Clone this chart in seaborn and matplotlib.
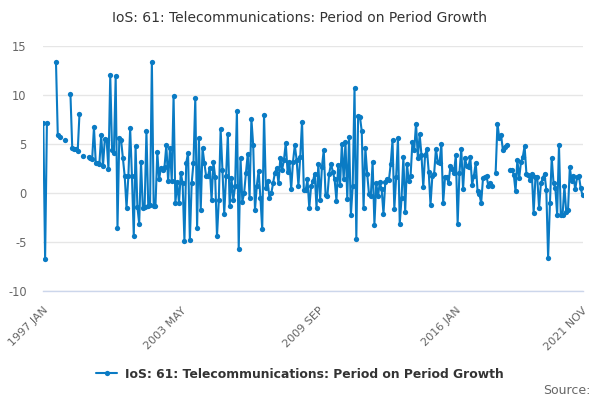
import numpy as np
import pandas as pd
import matplotlib
matplotlib.use("Agg")
import matplotlib.pyplot as plt
from matplotlib.lines import Line2D
import seaborn as sns

nan = np.nan
TITLE = "IoS: 61: Telecommunications: Period on Period Growth"
SERIES = "IoS: 61: Telecommunications: Period on Period Growth"
START = "1997-01"

# monthly period-on-period growth (%), NaN = no observation
g1997 = [7.2, -6.7, 7.2, nan, nan, nan, nan, 13.4, 5.95, 5.7, nan, nan]
g1998 = [5.4, nan, nan, 10.1, 4.6, 4.55, 4.5, 4.25, 8.1, nan, 3.75, nan]
g1999 = [nan, 3.7, 3.6, 3.5, 6.7, 3.1, 3.05, 3.0, 5.95, 2.8, 5.5, 5.4]
g2000 = [2.45, 12.0, 4.4, 4.1, 11.9, -3.5, 5.6, 5.4, 3.6, 1.7, -1.5, 1.7]
g2001 = [6.6, 1.7, -4.4, 4.8, -1.4, -3.1, 3.2, -1.5, -1.4, 6.3, -1.3, -1.2]
g2002 = [13.4, -1.3, -1.3, 4.2, 1.4, 2.6, 2.4, 2.7, 4.9, 1.2, 4.6, 1.2]
g2003 = [9.9, -1.0, 1.1, -1.0, 2.1, 1.0, -4.9, 3.1, 4.1, -4.8, 1.0, 3.1]
g2004 = [9.7, -3.5, 5.6, -1.7, 4.6, 3.1, 1.7, 1.7, 2.6, -0.7, 3.2, 1.6]
g2005 = [-4.4, -0.7, 6.5, 2.4, -2.1, 1.7, 6.0, -1.3, 1.5, -0.7, 0.7, 8.4]
g2006 = [-5.7, 3.6, -0.85, 0.0, 2.1, 4.0, -0.5, 7.6, 4.9, -1.7, 0.75, 2.3]
g2007 = [-0.5, -3.7, 8.0, 0.5, 1.2, -0.5, 0.0, 1.0, 2.1, 2.55, 1.0, 3.6]
g2008 = [2.4, 3.4, 5.1, 2.2, 3.2, 0.4, 3.2, 4.9, 3.4, 0.75, 3.7, 7.3]
g2009 = [0.3, 0.3, 1.4, -1.5, 0.7, 1.2, 2.0, -1.5, 3.0, -0.7, 2.7, 4.4]
g2010 = [-0.2, -0.3, 2.0, 3.0, 2.2, 1.4, -0.75, 2.9, 0.8, 5.0, 1.4, 5.2]
g2011 = [-0.6, 5.7, -2.2, 0.7, 10.7, -4.7, 7.9, 7.8, 6.3, -1.5, 4.6, 2.0]
g2012 = [-0.1, -0.3, 3.2, -3.2, 1.0, -0.3, 1.1, 0.4, -2.1, 1.1, 1.4, 1.3]
g2013 = [3.0, 5.4, -1.6, 1.6, 5.6, -3.1, -0.5, 3.7, -1.9, 3.0, 1.2, 1.8]
g2014 = [5.2, 4.4, 7.1, 3.6, 6.0, 3.9, 0.6, 3.9, 4.5, 2.2, -1.2, 1.7]
g2015 = [2.0, 4.5, 3.2, 3.1, 5.0, -1.0, 1.6, 1.6, 1.0, 2.8, 2.5, 2.1]
g2016 = [3.9, -3.1, 2.1, 4.5, 0.4, 3.6, 2.8, 2.7, 3.7, 0.85, 1.8, 3.1]
g2017 = [0.2, -0.1, -1.0, 1.5, 1.6, 1.7, 0.7, 1.0, 0.75, nan, 2.1, 7.1]
g2018 = [5.6, 5.9, 4.4, 4.7, 4.9, nan, 2.4, 2.4, 1.9, 0.2, 3.4, 1.5]
g2019 = [3.2, 3.7, 4.8, 2.0, 1.9, 1.3, 2.0, -2.0, 1.6, 1.6, -1.5, 1.0]
g2020 = [1.5, 2.0, 0.3, -6.6, -1.0, 3.6, 1.0, 0.5, -2.2, 4.9, -2.2, -2.2]
g2021 = [0.7, -1.9, -1.7, 2.65, 1.2, 1.7, 0.4, 1.6, 1.8, 0.5, -0.2]

y_ticks = [-10, -5, 0, 5, 10, 15]
tick_step_months = 19
label_every = 4

values = (g1997 + g1998 + g1999 + g2000 + g2001 + g2002 + g2003 + g2004 +
          g2005 + g2006 + g2007 + g2008 + g2009 + g2010 + g2011 + g2012 +
          g2013 + g2014 + g2015 + g2016 + g2017 + g2018 + g2019 + g2020 + g2021)
periods = pd.period_range(START, periods=len(values), freq="M")

df = pd.DataFrame({"m": np.arange(len(values)), "v": values})
df["seg"] = df["v"].isna().cumsum()
df = df.dropna()

BLUE = "#0a7bc4"
sns.set_style("white")
plt.rcParams["font.family"] = ["DejaVu Sans"]

fig = plt.figure(figsize=(6, 4), dpi=100)
ax = fig.add_axes([43.3 / 600, 1 - 291.3 / 400, (582.5 - 43.3) / 600, (291.3 - 46) / 400])

sns.lineplot(data=df, x="m", y="v", units="seg", estimator=None, sort=False,
             color=BLUE, linewidth=1.5, marker="o", markersize=3.8,
             markeredgewidth=0, legend=False, ax=ax)

n = len(values)
ax.set_xlim(0, n - 1)
ax.set_ylim(-10, 15)
ax.set_yticks(y_ticks)
ax.set_yticklabels([str(t) for t in y_ticks])
ax.grid(axis="y", color="#e6e6e6", linewidth=1)
ax.set_axisbelow(True)

xt = list(range(0, n, tick_step_months))
if xt[-1] != n - 1:
    xt.append(n - 1)
labels = []
for i, t in enumerate(xt):
    p = periods[t]
    if (i % label_every == 0 and t != xt[-2]) or t == n - 1:
        labels.append(f"{p.year} {p.strftime('%b').upper()}")
    else:
        labels.append("")
ax.set_xticks(xt)
ax.set_xticklabels(labels, rotation=45, ha="right", va="top",
                   rotation_mode="anchor", fontsize=8, color="#666666")

for s in ["top", "right", "left"]:
    ax.spines[s].set_visible(False)
ax.spines["bottom"].set_color("#ccd6eb")
ax.spines["bottom"].set_linewidth(1)
ax.tick_params(axis="x", direction="out", length=7, width=1, color="#ccd6eb", pad=3)
ax.tick_params(axis="y", length=0, pad=12, labelsize=8.3, labelcolor="#666666")
ax.set_xlabel("")
ax.set_ylabel("")

fig.text(0.5, 1 - 18 / 400, TITLE, ha="center", va="center",
         fontsize=10, color="#333333")

handle = Line2D([], [], color=BLUE, linewidth=1.5, marker="o", markersize=3.8,
                markeredgewidth=0)
leg = fig.legend([handle], [SERIES], loc="center", bbox_to_anchor=(0.5, 1 - 374 / 400),
                 frameon=False, handlelength=1.7, handletextpad=0.6,
                 prop={"weight": "bold", "size": 8.9})
for t in leg.get_texts():
    t.set_color("#333333")

fig.text(590 / 600, 1 - 390 / 400, "Source:", ha="right", va="center",
         fontsize=9, color="#666666")

fig.savefig("out.png", dpi=100)
